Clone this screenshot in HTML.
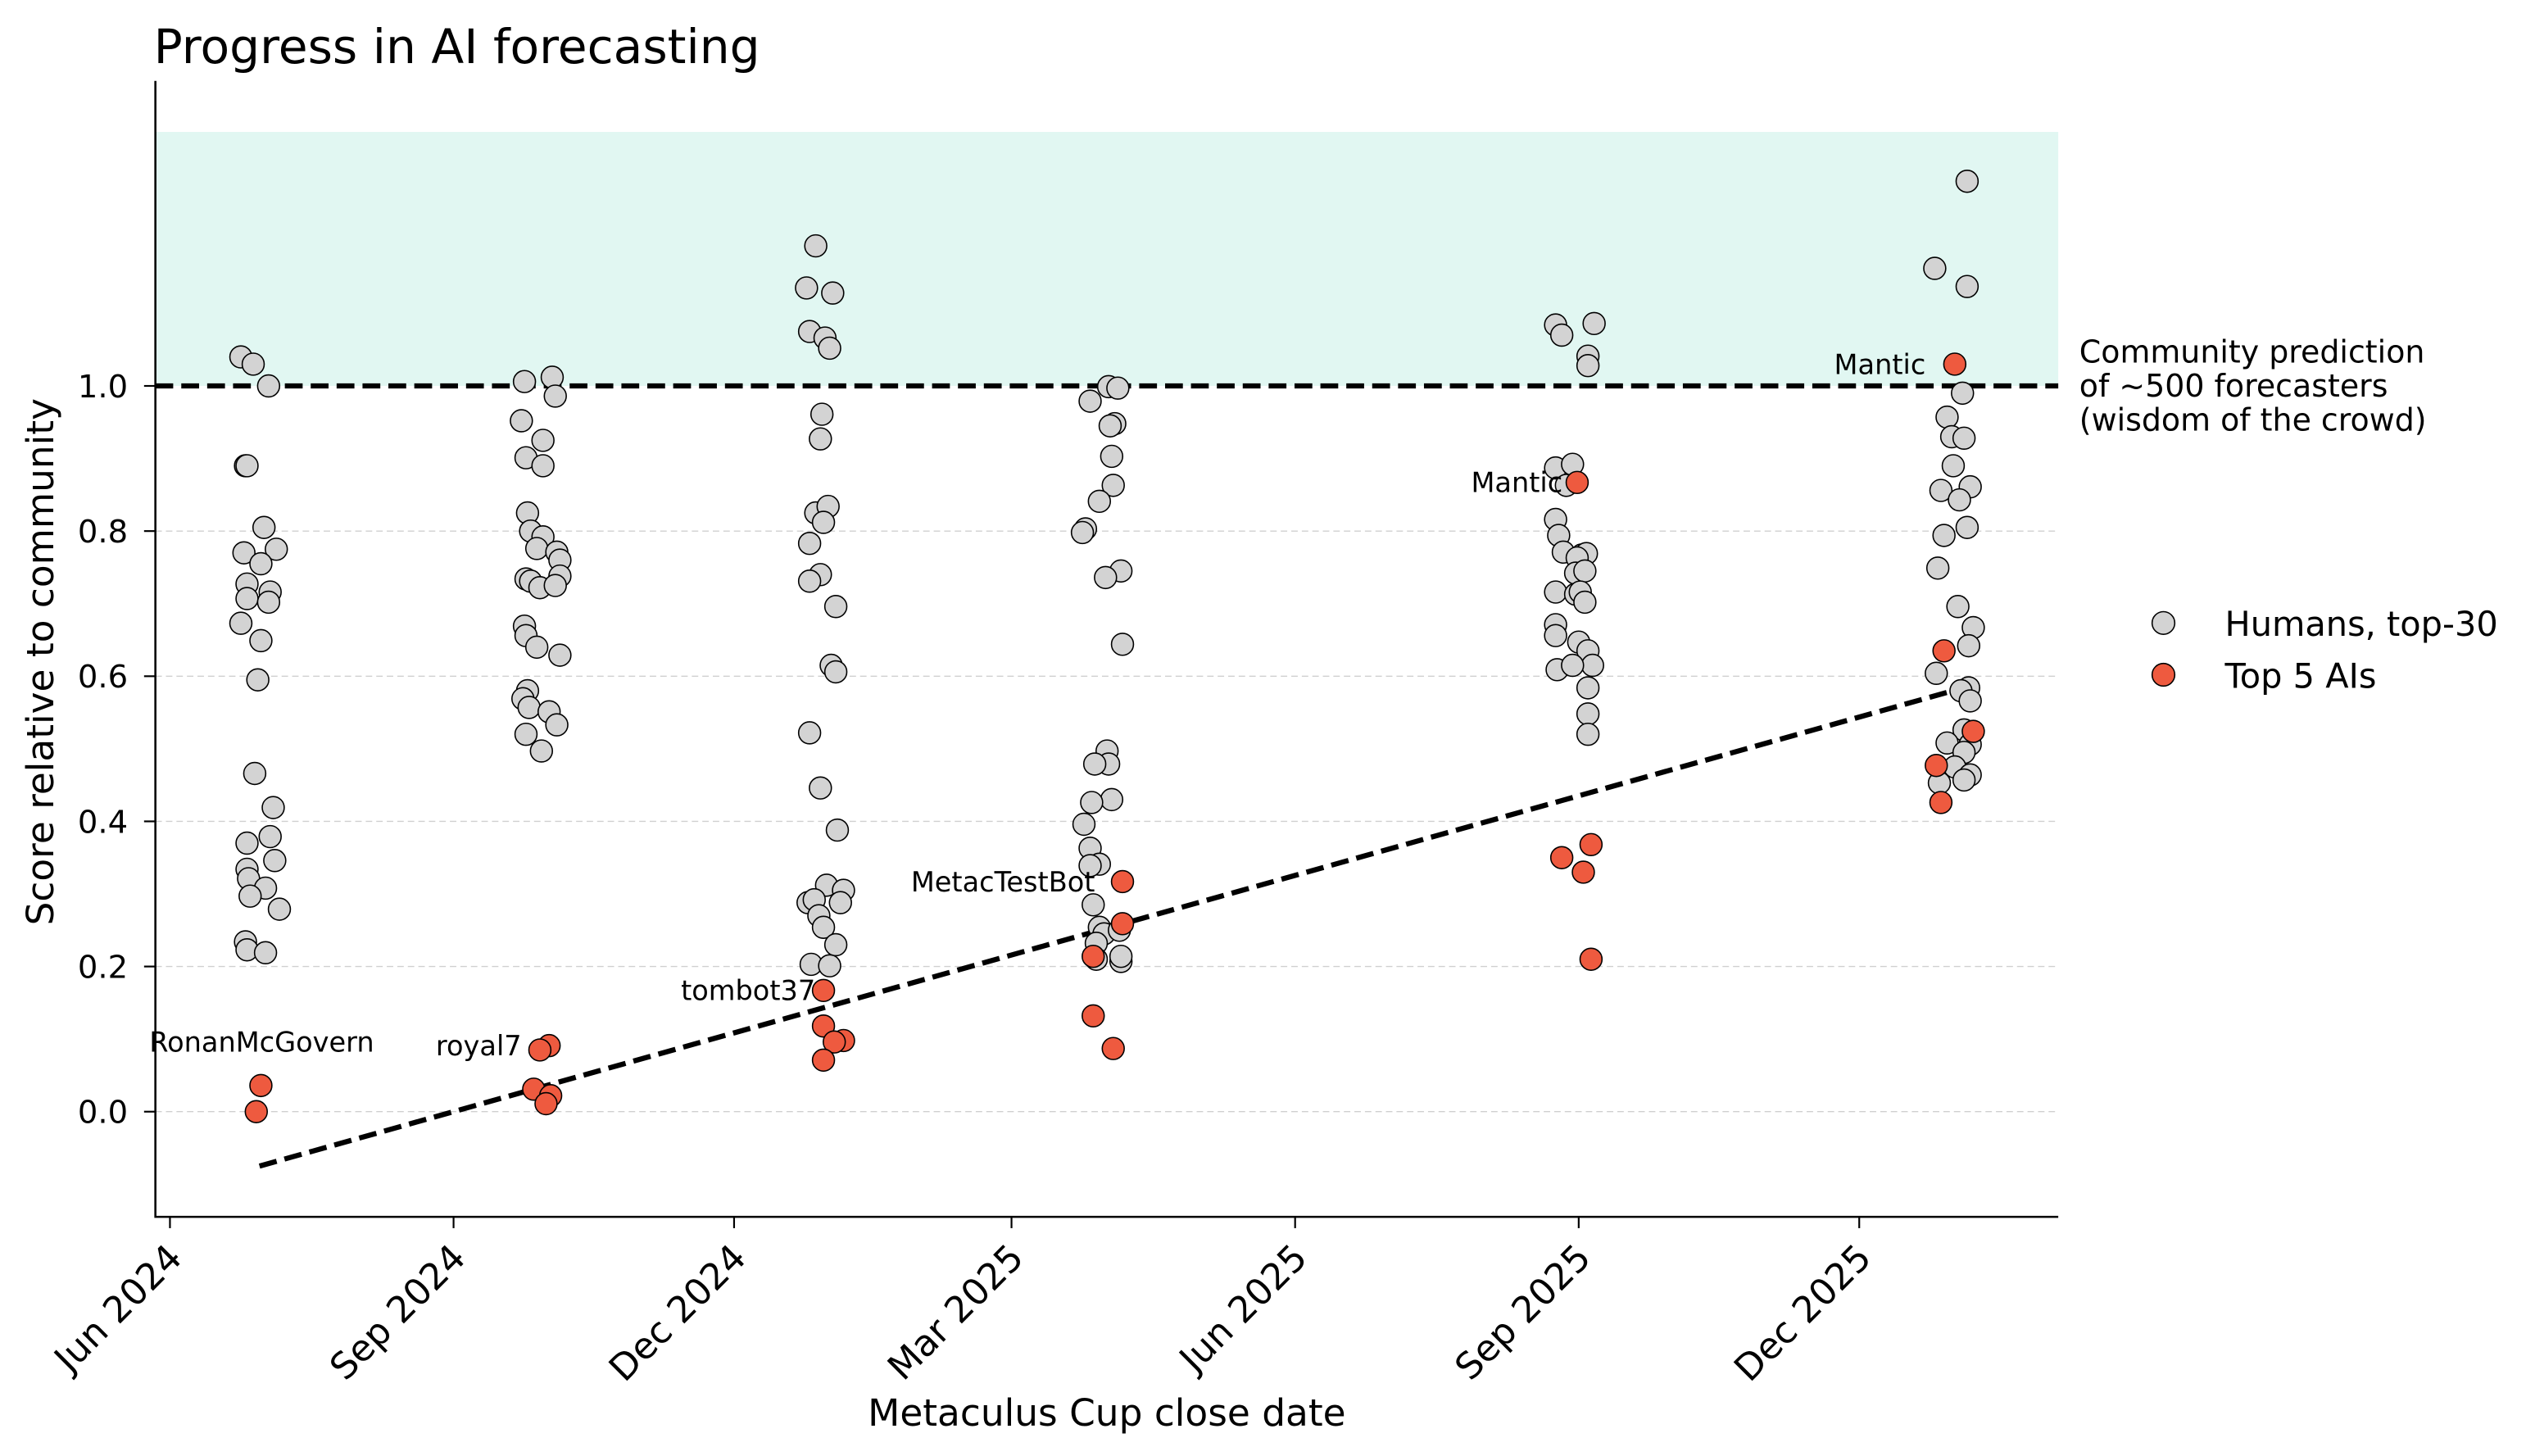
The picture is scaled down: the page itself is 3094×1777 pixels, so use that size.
<!DOCTYPE html>
<html><head><meta charset="utf-8"><style>
html,body{margin:0;padding:0;background:#fff;}
svg{display:block;font-family:"DejaVu Sans","Liberation Sans",sans-serif;}
</style></head><body>
<svg id="chart" width="3094" height="1777" viewBox="0 0 1566.6 899.8" xmlns="http://www.w3.org/2000/svg">
<text x="95" y="39" font-size="29.5" fill="#000">Progress in AI forecasting</text>
<g id="plot"></g>
<text x="684" y="881" font-size="23" text-anchor="middle">Metaculus Cup close date</text>
<text transform="translate(33,409) rotate(-90)" font-size="23" text-anchor="middle">Score relative to community</text>
<g font-size="19.2">
<text x="1285" y="224">Community prediction</text>
<text x="1285" y="245">of ~500 forecasters</text>
<text x="1285" y="266">(wisdom of the crowd)</text>
</g>
<g>
<circle cx="1337" cy="385" r="7" fill="#d3d3d3" stroke="#000" stroke-width="0.8"/>
<text x="1375" y="393" font-size="21">Humans, top-30</text>
<circle cx="1337" cy="417" r="7" fill="#ee5a3f" stroke="#000" stroke-width="0.8"/>
<text x="1375" y="425" font-size="21">Top 5 AIs</text>
</g>
</svg>
<script>
// ---- data ----
const clusterDates = ["2024-06-29","2024-09-29","2024-12-30","2025-03-31","2025-08-31","2026-01-02"];
const humans1 = [1.04,1.03,1.0,0.89,0.89,0.805,0.77,0.775,0.755,0.727,0.716,0.707,0.702,0.673,0.649,0.595,0.466,0.419,0.379,0.37,0.346,0.334,0.321,0.308,0.297,0.279,0.234,0.223,0.219];
const humansJitter1 = [-5,-1,4,-3.5,-3,2.5,-4,6.5,1.5,-3,4.5,-3,4,-5,1.5,0.5,-0.5,5.5,4.5,-3,6,-3,-2.5,3,-2,7.5,-3.5,-3,3];
const humans2 = [1.006,1.012,0.986,0.952,0.925,0.901,0.89,0.825,0.8,0.792,0.776,0.771,0.76,0.734,0.731,0.738,0.722,0.725,0.669,0.656,0.64,0.629,0.58,0.569,0.557,0.551,0.533,0.52,0.497];
const humansJitter2 = [-5,4,5,-6,1,-4.5,1,-4,-3,1,-1,5.5,6.5,-4.5,-3,6.5,0,5,-5,-4.5,-1,6.5,-4,-5.5,-3.5,3,5.5,-4.5,0.5];
const humans3 = [1.193,1.135,1.128,1.075,1.066,1.052,0.961,0.927,0.825,0.834,0.812,0.783,0.74,0.731,0.696,0.615,0.606,0.522,0.446,0.388,0.312,0.305,0.288,0.292,0.27,0.254,0.288,0.23,0.203,0.201];
const humansJitter3 = [-2.5,-5.5,3,-4.5,0.5,2,-0.5,-1,-2.5,1.5,0,-4.5,-1,-4.5,4,2.5,4,-4.5,-1,4.5,1,6.5,-5,-3,-1.5,0,5.5,4,-4,2];
const humans4 = [0.999,0.997,0.979,0.948,0.945,0.903,0.863,0.841,0.803,0.798,0.745,0.736,0.644,0.497,0.479,0.479,0.43,0.426,0.396,0.363,0.341,0.339,0.285,0.254,0.245,0.232,0.25,0.21,0.207,0.214];
const humansJitter4 = [1.5,4.5,-4.5,3.5,2,2.5,3,-1.5,-6,-7,5.5,0.5,6,1,1.5,-3,2.5,-4,-6.5,-4.5,-1.5,-4.5,-3.5,-1.5,0,-2.5,5,-2.5,5.5,5.5];
const humans5 = [1.084,1.086,1.07,1.041,1.028,0.887,0.892,0.863,0.816,0.794,0.771,0.767,0.769,0.763,0.742,0.745,0.716,0.713,0.716,0.702,0.671,0.656,0.647,0.635,0.615,0.609,0.615,0.584,0.548,0.52];
const humansJitter5 = [-6.5,6,-4.5,4,4,-6.5,-1,-3,-6.5,-5.5,-4,2,3.5,0.5,0,3,-6.5,0,1.5,3,-6.5,-6.5,1,4,5.5,-6,-1,4,4,4];
const humans6 = [1.282,1.162,1.137,0.99,0.957,0.93,0.928,0.89,0.861,0.856,0.843,0.805,0.794,0.749,0.696,0.667,0.642,0.604,0.584,0.58,0.566,0.526,0.506,0.508,0.495,0.475,0.464,0.453,0.457];
const humansJitter6 = [3,-7.5,3,1.5,-3.5,-2,2,-1.5,4,-5.5,0.5,3,-4.5,-6.5,0,5,3.5,-7,3.5,1,4,2,4,-3.5,2,-1,4,-6,2];
const ais1 = [0.036,0.0];
const aisJitter1 = [1.5,0];
const ais2 = [0.091,0.085,0.031,0.022,0.011];
const aisJitter2 = [3,0,-2,3.5,2];
const ais3 = [0.167,0.118,0.098,0.096,0.071];
const aisJitter3 = [0,0,6.5,3.5,0];
const ais4 = [0.317,0.259,0.214,0.132,0.087];
const aisJitter4 = [6,6,-3.5,-3.5,3];
const ais5 = [0.867,0.368,0.35,0.33,0.21];
const aisJitter5 = [0.5,5,-4.5,2.5,5];
const ais6 = [1.03,0.635,0.524,0.477,0.426];
const aisJitter6 = [-1,-4.5,5,-7,-5.5];
const aiLabels = ["RonanMcGovern","royal7","tombot37","MetacTestBot","Mantic","Mantic"];
const trendValues = [-0.075, 0.585];
const yTicks = [0.0,0.2,0.4,0.6,0.8,1.0];
const yTickLabels = ["0.0","0.2","0.4","0.6","0.8","1.0"];
const xTickDates = ["2024-06-01","2024-09-01","2024-12-01","2025-03-01","2025-06-01","2025-09-01","2025-12-01"];
const xTickLabels = ["Jun 2024","Sep 2024","Dec 2024","Mar 2025","Jun 2025","Sep 2025","Dec 2025"];
const communityValue = 1.0;
const bandTop = 1.35;

// ---- layout ----
const NS = "http://www.w3.org/2000/svg";
const plot = document.getElementById("plot");
const X0 = 96, X1 = 1272, YT = 50, YB = 752;
const origin = Date.UTC(2024,5,1);
function days(s){const p=s.split("-").map(Number);return (Date.UTC(p[0],p[1]-1,p[2])-origin)/86400000;}
function xs(d){return 105 + d*(1149-105)/548;}
function ys(v){return 687 - v*448.5;}
function mk(tag, attrs, parent){const e=document.createElementNS(NS,tag);for(const k in attrs)e.setAttribute(k,attrs[k]);(parent||plot).appendChild(e);return e;}

let band = mk("rect",{x:X0,y:ys(bandTop),width:X1-X0,height:ys(communityValue)-ys(bandTop),fill:"#e1f7f2"});


yTicks.forEach((t,i)=>{
  if(t>=1) return;
  const g = mk("line",{x1:X0,x2:X1,y1:ys(t),y2:ys(t),stroke:"#d0d0d0","stroke-width":0.7,"stroke-dasharray":"4,2.5"});
  
  
});
let cl = mk("line",{x1:X0,x2:X1,y1:ys(communityValue),y2:ys(communityValue),stroke:"#000","stroke-width":3.2,"stroke-dasharray":"11,5"});



let ax = mk("path",{d:`M${X0},${YT}V${YB}H${X1}`,fill:"none",stroke:"#000","stroke-width":1.3});


yTicks.forEach((t,i)=>{
  const tk = mk("line",{x1:X0-7,x2:X0,y1:ys(t),y2:ys(t),stroke:"#000","stroke-width":1.1});
  
  
  const tl = mk("text",{x:X0-17,y:ys(t)+7,"font-size":19.5,"text-anchor":"end"});
  tl.textContent = yTickLabels[i];
  
  
});
xTickDates.forEach((d,i)=>{
  const x = xs(days(d));
  const tk = mk("line",{x1:x,x2:x,y1:YB,y2:YB+7,stroke:"#000","stroke-width":1.1});
  
  
  const tl = mk("text",{transform:`translate(${x-2},${YB+16}) rotate(-45)`,"font-size":22.5,"text-anchor":"end",y:15});
  tl.textContent = xTickLabels[i];
  
  
});

const humans = [humans1,humans2,humans3,humans4,humans5,humans6];
const hJit = [humansJitter1,humansJitter2,humansJitter3,humansJitter4,humansJitter5,humansJitter6];
const ais = [ais1,ais2,ais3,ais4,ais5,ais6];
const aJit = [aisJitter1,aisJitter2,aisJitter3,aisJitter4,aisJitter5,aisJitter6];

const tx0 = xs(days(clusterDates[0])), tx1 = xs(days(clusterDates[clusterDates.length-1]));
let tr = mk("line",{x1:tx0+2,y1:ys(trendValues[0]),x2:tx1+5,y2:ys(trendValues[1]),stroke:"#000","stroke-width":3.2,"stroke-dasharray":"11,5"});



const labelDx = [70,-17,-5,-17,-9,-18];
humans.forEach((arr,c)=>{
  const cd = days(clusterDates[c]);
  arr.forEach((v,i)=>{
    const p = mk("circle",{cx:xs(cd+hJit[c][i]),cy:ys(v),r:6.8,fill:"#d3d3d3",stroke:"#000","stroke-width":0.8});
    
    
  });
});
ais.forEach((arr,c)=>{
  const cd = days(clusterDates[c]);
  let best = 0;
  arr.forEach((v,i)=>{
    const p = mk("circle",{cx:xs(cd+aJit[c][i]),cy:ys(v),r:6.8,fill:"#ee5a3f",stroke:"#000","stroke-width":0.8});
    
    
    if(v>arr[best]) best=i;
  });
  const bx = xs(cd+aJit[c][best]), by = ys(arr[best]);
  const lab = mk("text",{x:bx+labelDx[c],y:(c===0?by-21:by+6),"font-size":17,"text-anchor":"end"});
  lab.textContent = aiLabels[c];
  
  
});
</script>
</body></html>
